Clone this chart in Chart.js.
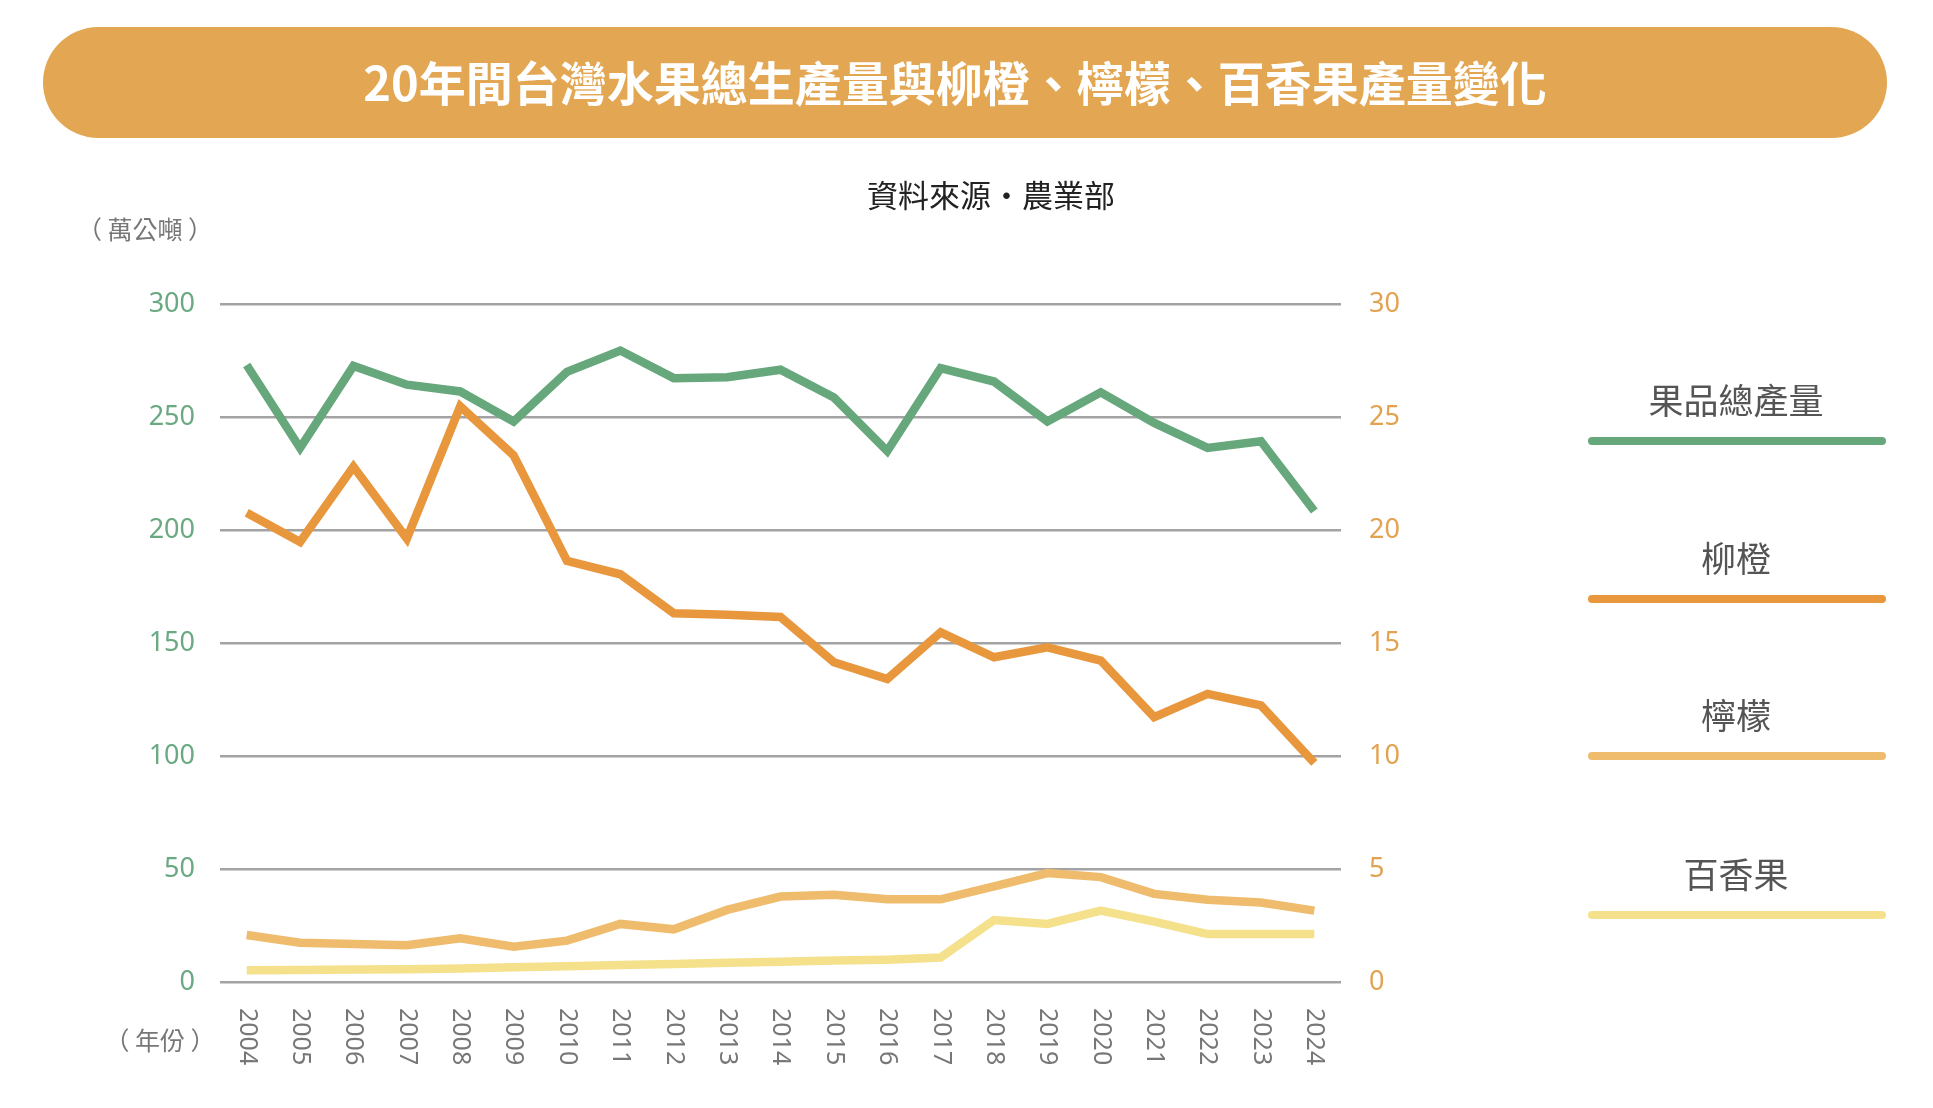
<!DOCTYPE html>
<html>
<head>
<meta charset="utf-8">
<script src="https://cdn.jsdelivr.net/npm/chart.js@4.4.1/dist/chart.umd.min.js"></script>
<style>
  html, body { margin: 0; padding: 0; background: #fff; }
  #wrap { width: 1933px; height: 1108px; position: relative; }
</style>
</head>
<body>
<div id="wrap"><canvas id="chartFrutas"></canvas></div>
<script>
// data
const titleText = '20年間台灣水果總生產量與柳橙、檸檬、百香果產量變化';
const sourceText = '資料來源・農業部';
const years = ['2004','2005','2006','2007','2008','2009','2010','2011','2012','2013','2014',
               '2015','2016','2017','2018','2019','2020','2021','2022','2023','2024'];
// 萬公噸, left axis
const totalFruit = [273, 236.3, 272.6, 264.3, 261.3, 248, 270, 279.4, 267.2, 267.6, 270.9,
                    258.6, 234.9, 271.6, 265.7, 248, 260.9, 247.4, 236.3, 239.3, 208.4];
// 萬公噸, right axis
const orange = [20.76, 19.47, 22.8, 19.62, 25.47, 23.3, 18.63, 18.04, 16.32, 16.25, 16.15,
                14.15, 13.41, 15.47, 14.37, 14.81, 14.22, 11.72, 12.75, 12.24, 9.7];
const lemon = [2.08, 1.74, 1.68, 1.63, 1.93, 1.56, 1.83, 2.57, 2.33, 3.19, 3.78,
               3.86, 3.66, 3.66, 4.23, 4.82, 4.64, 3.9, 3.64, 3.52, 3.16];
const passion = [0.52, 0.53, 0.55, 0.56, 0.6, 0.65, 0.7, 0.75, 0.8, 0.85, 0.9,
                 0.95, 0.99, 1.08, 2.74, 2.57, 3.16, 2.67, 2.12, 2.12, 2.12];
const leftTicks = [0, 50, 100, 150, 200, 250, 300];
const rightTicks = [0, 5, 10, 15, 20, 25, 30];

const cjk = '"Noto Sans CJK TC", "Noto Sans", sans-serif';

const decor = {
    id: 'decor',
    beforeDraw(chart) {
        const c = chart.ctx;
        c.save();
        c.fillStyle = '#fff';
        c.fillRect(0, 0, chart.width, chart.height);
        // title pill
        c.fillStyle = '#e3a652';
        c.beginPath();
        c.roundRect(43, 27, 1844, 111, 55.5);
        c.fill();
        c.fillStyle = '#fff';
        c.font = 'bold 47px ' + cjk;
        c.textAlign = 'center';
        c.textBaseline = 'middle';
        c.fillText(titleText, 955, 83);
        c.fillStyle = '#222';
        c.font = '31px ' + cjk;
        c.fillText(sourceText, 991, 195);
        c.fillStyle = '#777';
        c.font = '25px ' + cjk;
        c.fillText('（ 萬公噸 ）', 145, 229);
        c.fillText('（ 年份 ）', 160, 1040);
        c.restore();
    },
    afterDraw(chart) {
        const c = chart.ctx;
        const x = chart.scales.x;
        c.save();
        // year labels, turned clockwise
        c.fillStyle = '#777';
        c.font = '25px "Noto Sans", sans-serif';
        c.textAlign = 'left';
        c.textBaseline = 'middle';
        years.forEach((y, i) => {
            c.save();
            c.translate(x.getPixelForTick(i), 1008);
            c.rotate(Math.PI / 2);
            c.fillText(y, 0, 0);
            c.restore();
        });
        // legend on the right
        const rows = [401, 559, 716, 875];
        c.textAlign = 'center';
        c.font = '35px ' + cjk;
        chart.data.datasets.forEach((ds, i) => {
            c.fillStyle = '#555';
            c.fillText(ds.label, 1736, rows[i]);
            c.strokeStyle = ds.borderColor;
            c.lineWidth = 8;
            c.lineCap = 'round';
            c.beginPath();
            c.moveTo(1592, rows[i] + 40);
            c.lineTo(1882, rows[i] + 40);
            c.stroke();
        });
        c.restore();
    }
};

const ctx = document.getElementById('chartFrutas').getContext('2d');
const chartFrutas = new Chart(ctx, {
    type: 'line',
    data: {
        labels: years,
        datasets: [
            { label: '果品總產量', data: totalFruit, yAxisID: 'y', borderColor: '#67a77c' },
            { label: '柳橙', data: orange, yAxisID: 'y1', borderColor: '#e8973d' },
            { label: '檸檬', data: lemon, yAxisID: 'y1', borderColor: '#efbb6c' },
            { label: '百香果', data: passion, yAxisID: 'y1', borderColor: '#f5e18c' }
        ].map(d => Object.assign(d, {
            borderWidth: 8.5,
            pointRadius: 0,
            tension: 0,
            fill: false,
            borderJoinStyle: 'miter'
        }))
    },
    options: {
        responsive: true,
        maintainAspectRatio: false,
        animation: false,
        layout: { padding: { top: 304, left: 0, right: 0, bottom: 0 } },
        plugins: { legend: { display: false }, tooltip: { enabled: false } },
        scales: {
            x: {
                offset: true,
                grid: { display: false },
                border: { display: false },
                ticks: { display: false },
                afterFit(s) { s.height = 126; }
            },
            y: {
                position: 'left',
                min: 0, max: 300,
                afterBuildTicks(s) { s.ticks = leftTicks.map(v => ({ value: v })); },
                grid: { color: '#a3a3a3', lineWidth: 2.5, drawTicks: false },
                border: { display: false },
                ticks: { color: '#6aa981', padding: 25, font: { size: 27, family: '"Noto Sans", sans-serif' } },
                afterFit(s) { s.width = 220; }
            },
            y1: {
                position: 'right',
                min: 0, max: 30,
                afterBuildTicks(s) { s.ticks = rightTicks.map(v => ({ value: v })); },
                grid: { display: false, drawTicks: false },
                border: { display: false },
                ticks: { color: '#e2a24f', padding: 28, font: { size: 27, family: '"Noto Sans", sans-serif' } },
                afterFit(s) { s.width = 592; }
            }
        }
    },
    plugins: [decor]
});
</script>
</body>
</html>
